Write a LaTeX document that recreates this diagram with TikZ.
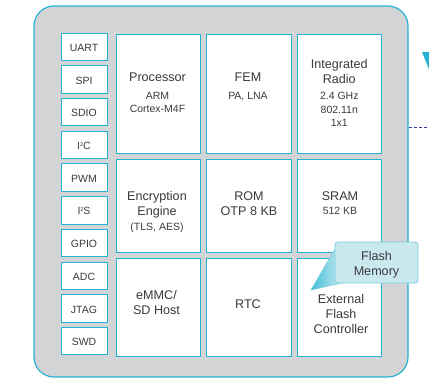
\documentclass[tikz,border=0pt]{standalone}
\usepackage{fontspec}
\setmainfont{Liberation Sans}
\definecolor{chipgray}{RGB}{211,212,214}
\definecolor{cyanb}{RGB}{38,178,210}
\definecolor{txtc}{RGB}{58,58,60}
\definecolor{callfill}{RGB}{201,233,239}
\definecolor{callline}{RGB}{120,205,222}
\definecolor{taildark}{RGB}{64,190,216}
\definecolor{dashblue}{RGB}{46,62,154}
\newcommand\fbig{\fontsize{12.6}{15}\selectfont}
\newcommand\fsmall{\fontsize{10.5}{13}\selectfont}
\newcommand\tinysup[1]{\raisebox{3.2pt}{\fontsize{5.5}{6}\selectfont #1}}
\newcommand\tl[5]{\node[tx,font=#4] (#1) at (#2,#3) {#5};}
\begin{document}
\begin{tikzpicture}[x=1pt,y=-1pt,
  chipbox/.style={draw=cyanb,fill=chipgray,line width=1.2pt,rounded corners=20pt,inner sep=0pt},
  blk/.style={draw=cyanb,fill=white,line width=1pt,inner sep=0pt},
  pbox/.style={blk,minimum width=46pt,minimum height=27.5pt},
  tx/.style={anchor=base,inner sep=0pt,text=txtc},
  callbox/.style={draw=callline,fill=callfill,line width=0.8pt,rounded corners=3pt,inner sep=0pt,minimum width=83pt,minimum height=41pt}]
\useasboundingbox (0,0) rectangle (429,378);

% chip outline
\node[chipbox,minimum width=374pt,minimum height=371pt] (chip) at (221,191.5) {};

% peripheral boxes
\foreach \n/\lab [count=\i from 0] in {uart/UART,spi/SPI,sdio/SDIO,iic/I\tinysup{2}C,pwm/PWM,iis/I\tinysup{2}S,gpio/GPIO,adc/ADC,jtag/JTAG,swd/SWD}{
  \pgfmathsetmacro\cy{46.75+32.72*\i}
  \node[pbox] (\n) at (84,\cy) {};
  \node[tx,font=\fsmall] (\n-t) at (84,\cy+4.6) {\lab};
}

% main blocks
\node[blk,minimum width=84pt,minimum height=119pt] (proc) at (158,93.5) {};
\node[blk,minimum width=85pt,minimum height=119pt] (fem) at (248.5,93.5) {};
\node[blk,minimum width=84pt,minimum height=119pt] (radio) at (339,93.5) {};
\node[blk,minimum width=84pt,minimum height=93pt] (enc) at (158,205.5) {};
\node[blk,minimum width=85pt,minimum height=93pt] (rom) at (248.5,205.5) {};
\node[blk,minimum width=84pt,minimum height=93pt] (sram) at (339,205.5) {};
\node[blk,minimum width=84pt,minimum height=98pt] (emmc) at (158,307) {};
\node[blk,minimum width=85pt,minimum height=98pt] (rtc) at (248.5,307) {};
\node[blk,minimum width=84pt,minimum height=98pt] (efc) at (339,307) {};

% texts
\tl{proc1}{157.5}{81}{\fbig}{Processor}
\tl{proc2}{157.5}{99.5}{\fsmall}{ARM}
\tl{proc3}{157.5}{112.5}{\fsmall}{Cortex-M4F}
\tl{fem1}{248}{81}{\fbig}{FEM}
\tl{fem2}{248}{99.5}{\fsmall}{PA, LNA}
\tl{rad1}{339.3}{68.8}{\fbig}{Integrated}
\tl{rad2}{339.3}{83.7}{\fbig}{Radio}
\tl{rad3}{339.3}{99.8}{\fsmall}{2.4 GHz}
\tl{rad4}{339.3}{113}{\fsmall}{802.11n}
\tl{rad5}{339.3}{126.5}{\fsmall}{1x1}
\tl{enc1}{157}{200.5}{\fbig}{Encryption}
\tl{enc2}{157}{215.5}{\fbig}{Engine}
\tl{enc3}{157}{230.8}{\fsmall}{(TLS, AES)}
\tl{rom1}{249}{200.5}{\fbig}{ROM}
\tl{rom2}{249}{215.5}{\fbig}{OTP 8 KB}
\tl{sram1}{340}{200.5}{\fbig}{SRAM}
\tl{sram2}{340}{214.8}{\fsmall}{512 KB}
\tl{emmc1}{156.5}{299.5}{\fbig}{eMMC/}
\tl{emmc2}{156.5}{314.5}{\fbig}{SD Host}
\tl{rtc1}{248}{308.5}{\fbig}{RTC}
\tl{efc1}{341}{303.5}{\fbig}{External}
\tl{efc2}{341}{318.5}{\fbig}{Flash}
\tl{efc3}{341}{333.5}{\fbig}{Controller}

% flash memory callout
\coordinate (tailtip) at (311,290);
\shade[shading angle=60,left color=taildark,right color=callfill,draw=callline,line width=0.5pt]
  (336,247) -- (tailtip) -- (342,283) -- cycle;
\node[callbox] (flash) at (376.5,262.5) {};
\tl{fl1}{376.5}{260}{\fbig}{Flash}
\tl{fl2}{376.5}{275}{\fbig}{Memory}

% outside marks
\fill[cyanb] (422,52) -- (438,52) -- (430.5,73) -- cycle;
\coordinate (dashB) at (432,127);
\draw[dashblue,line width=0.8pt,dash pattern=on 3pt off 2pt] (chip.east |- dashB) -- (dashB);
\end{tikzpicture}
\end{document}
